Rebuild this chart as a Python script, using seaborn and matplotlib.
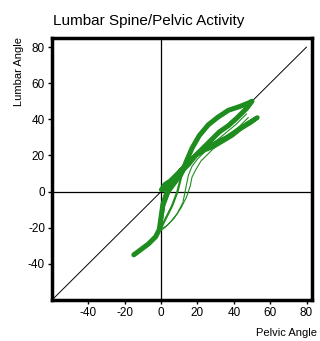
import matplotlib
matplotlib.use("Agg")
import matplotlib.pyplot as plt
import seaborn as sns
import pandas as pd

sns.set_style("white")
plt.rcParams['font.family'] = ['Liberation Sans', 'DejaVu Sans']
plt.rcParams['axes.unicode_minus'] = False
plt.rcParams['text.color'] = 'black'

title = "Lumbar Spine/Pelvic Activity"
xlabel = "Pelvic Angle"
ylabel = "Lumbar Angle"
xticks = [-40, -20, 0, 20, 40, 60, 80]
yticks = [-40, -20, 0, 20, 40, 60, 80]
diag = [-60, 80]

# thick loop 1
t1_x = [-15, -11, -7, -3, -1, 0, 1, 3, 6, 9, 12, 14, 17, 21, 26, 31, 37, 43, 48, 50,
        47, 42, 37, 32, 28, 23, 19, 15, 11, 7, 4, 1]
t1_y = [-35, -32, -29, -25, -21, -14, -7, -1, 3, 7, 12, 17, 24, 31, 37, 41, 45, 47, 49, 50,
        46, 41, 36.5, 33, 29, 24, 20, 15, 11, 7, 4, 1]
# thick loop 2
t2_x = [0, 2, 5, 8, 12, 16, 20, 25, 30, 36, 42, 48, 53,
        49, 44, 39, 34, 29, 24, 19, 15, 11, 7, 4, 1, 0]
t2_y = [1, 4, 6, 9, 13, 17, 21, 24, 27, 30, 34, 38, 41,
        38, 35, 31, 28, 25, 23, 20, 16, 12, 6, 0, -8, -15]
# thin loops
t3_x = [-1, 3, 7, 11, 14, 16, 17, 19, 22, 26, 31, 37, 43, 48]
t3_y = [-21, -19, -15, -9, -3, 3, 8, 12, 17, 21, 26, 31, 36, 41]
t4_x = [-1, 2, 5, 9, 12, 13, 14, 15, 17, 20, 24, 29, 35, 41, 47]
t4_y = [-22, -20, -17, -12, -6, -1, 4, 9, 14, 18, 22, 27, 32, 37, 43]
# medium
t5_x = [0, 3, 6, 9, 11, 14, 18]
t5_y = [-20, -14, -8, 0, 8, 14, 19]

traces = [(t1_x, t1_y, 3.6), (t2_x, t2_y, 3.2), (t3_x, t3_y, 0.8),
          (t4_x, t4_y, 0.8), (t5_x, t5_y, 1.6)]

green = "#1e8c1e"

fig = plt.figure(figsize=(3.2, 3.41), dpi=100)
ax = fig.add_axes([52/320, 1-300/341, 260/320, 262/341])

ax.plot(diag, diag, color="black", lw=0.7, zorder=1)
ax.axhline(0, color="black", lw=0.9, zorder=1)
ax.axvline(0, color="black", lw=0.9, zorder=1)

for xs, ys, lw in traces:
    df = pd.DataFrame({"x": xs, "y": ys})
    sns.lineplot(data=df, x="x", y="y", sort=False, estimator=None, ax=ax,
                 color=green, linewidth=lw, zorder=3)

ax.set_xlim(-60, 83)
ax.set_ylim(-60, 85)
ax.set_xticks(xticks)
ax.set_yticks(yticks)
ax.set_xlabel("")
ax.set_ylabel("")
ax.tick_params(direction="out", length=3, width=1, labelsize=8.5, pad=2,
               bottom=True, left=True, colors="black")
for s in ax.spines.values():
    s.set_linewidth(2.5)
    s.set_color("black")

fig.text(53/320, 1-21/341, title, fontsize=11, ha="left", va="center")
fig.text(19/320, 1-72/341, ylabel, fontsize=8, rotation=90, ha="center", va="center")
fig.text(286/320, 1-333/341, xlabel, fontsize=8, ha="center", va="center")

fig.savefig("out.png", dpi=100)
